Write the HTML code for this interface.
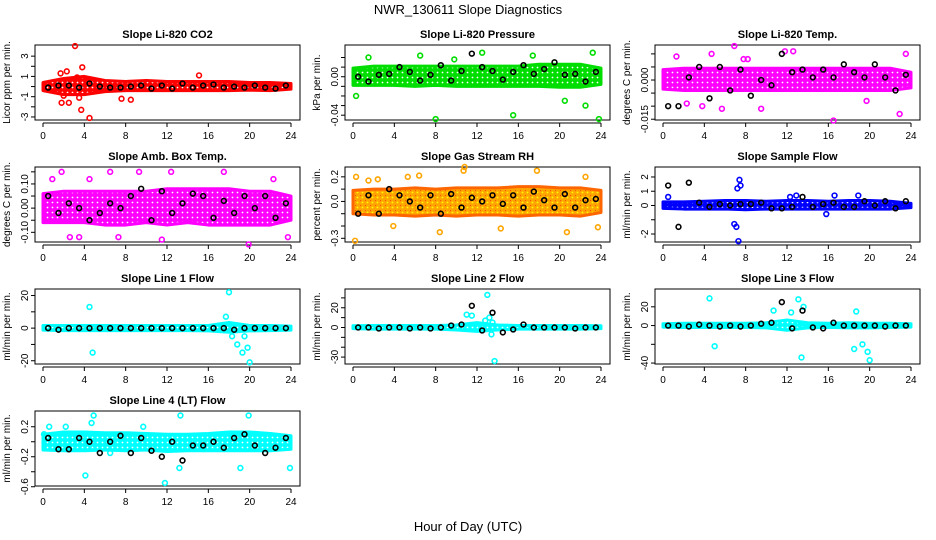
<!DOCTYPE html>
<html><head><meta charset="utf-8"><style>
body{margin:0;background:#fff}
svg{display:block;font-family:"Liberation Sans",Arial,sans-serif}
</style></head><body>
<svg id="c" width="936" height="540" viewBox="0 0 936 540">
<defs id="defs"></defs>
<text x="468" y="14" font-size="13" text-anchor="middle">NWR_130611  Slope Diagnostics</text>
<text x="468" y="531" font-size="13" text-anchor="middle">Hour of Day (UTC)</text>
</svg>
<script>
// ---- data ----
const titles=["Slope Li-820 CO2","Slope Li-820 Pressure","Slope Li-820 Temp.","Slope Amb. Box Temp.","Slope Gas Stream RH","Slope Sample Flow","Slope Line 1 Flow","Slope Line 2 Flow","Slope Line 3 Flow","Slope Line 4 (LT) Flow"];
const ylabels=["Licor ppm per min.","kPa per min.","degrees C per min.","degrees C per min.","percent per min.","ml/min per min.","ml/min per min.","ml/min per min.","ml/min per min.","ml/min per min."];
const colors=["#ff0000","#00dd00","#ff00ff","#ff00ff","#ffa500","#0000ff","#00ffff","#00ffff","#00ffff","#00ffff"];
const yRanges=[[-3.3,4.1],[-0.045,0.033],[-0.0153,0.0134],[-0.14,0.17],[-0.33,0.28],[-2.56,2.7],[-22,24],[-37,39],[-41,39],[-0.59,0.41]];
const yTicks=[[-3,-2,-1,0,1,2,3],[-0.04,-0.03,-0.02,-0.01,0,0.01,0.02],[-0.015,-0.01,-0.005,0,0.005,0.01],[-0.1,-0.05,0,0.05,0.1,0.15],[-0.3,-0.2,-0.1,0,0.1,0.2],[-2,-1,0,1,2],[-20,-10,0,10,20],[-30,-20,-10,0,10,20,30],[-40,-20,0,20],[-0.6,-0.4,-0.2,0,0.2]];
const yTickLabels=[["-3","","-1","","1","","3"],["-0.04","","","","0.00","",""],["-0.015","","","0.000","",""],["-0.10","","0.00","","0.10",""],["-0.3","","","0.0","","0.2"],["-2","","0","1","2"],["-20","","0","","20"],["-30","","","0","","20",""],["-40","","0","20"],["-0.6","","-0.2","","0.2"]];
const xTicks=[0,4,8,12,16,20,24];
const bandHours=[0,2,4,6,8,10,12,14,16,18,20,22,24];
const bandLo=[[-0.4,-0.8,-0.8,-0.5,-0.4,-0.4,-0.4,-0.4,-0.4,-0.4,-0.35,-0.4,-0.25],[-0.009,-0.009,-0.009,-0.01,-0.009,-0.01,-0.01,-0.01,-0.01,-0.01,-0.011,-0.011,-0.008],[-0.0035,-0.004,-0.004,-0.004,-0.004,-0.004,-0.004,-0.004,-0.004,-0.004,-0.004,-0.004,-0.003],[-0.06,-0.06,-0.06,-0.07,-0.07,-0.06,-0.07,-0.06,-0.07,-0.07,-0.07,-0.07,-0.05],[-0.1,-0.11,-0.11,-0.12,-0.11,-0.12,-0.11,-0.11,-0.12,-0.11,-0.11,-0.12,-0.09],[-0.2,-0.25,-0.25,-0.25,-0.3,-0.25,-0.25,-0.25,-0.25,-0.25,-0.25,-0.25,-0.15],[-1.2,-1.5,-1.5,-1.5,-1.5,-1.5,-1.5,-1.5,-1.7,-2.5,-1.7,-1.5,-1.2],[-1.2,-1.7,-1.7,-1.7,-1.7,-2.5,-4,-2.5,-1.7,-1.7,-1.7,-1.7,-1.2],[-1.7,-2,-2,-2,-2,-2.5,-5,-2.5,-2,-2.5,-2.5,-2,-1.7],[-0.11,-0.12,-0.12,-0.11,-0.12,-0.11,-0.13,-0.12,-0.12,-0.12,-0.12,-0.12,-0.1]];
const bandHi=[[0.4,0.8,1,0.6,0.5,0.6,0.5,0.5,0.5,0.5,0.4,0.4,0.3],[0.009,0.011,0.011,0.011,0.011,0.011,0.011,0.011,0.011,0.013,0.013,0.013,0.009],[0.004,0.0045,0.0045,0.0045,0.0045,0.0045,0.0045,0.0045,0.0045,0.0045,0.0045,0.0045,0.003],[0.06,0.07,0.07,0.07,0.07,0.07,0.08,0.08,0.08,0.08,0.07,0.07,0.05],[0.09,0.1,0.1,0.11,0.1,0.11,0.11,0.11,0.12,0.12,0.11,0.11,0.09],[0.25,0.25,0.3,0.35,0.35,0.3,0.35,0.35,0.3,0.35,0.35,0.3,0.15],[1.6,1.6,1.6,1.6,1.6,1.6,1.6,1.6,1.6,3.5,1.6,1.6,1.2],[1.7,2,2,2,2,2.5,5,2.5,2,2,2,2,1.7],[2,2.5,2.5,2.5,2.5,3,6,3,2.5,3,2.5,2.5,2],[0.1,0.13,0.13,0.12,0.12,0.11,0.1,0.1,0.11,0.13,0.13,0.11,0.08]];
const outX=[[1.7,1.8,2.3,2.5,3.1,3.5,3.8,4.5,3.7,7.6,8.5,15.1,2,3.3],[0.3,1.5,8,12.5,15.5,17.4,20.5,22.5,23.2,23.8,9.8,6.5],[2.3,3.8,6.9,4.7,5.7,7.8,9.5,11.8,12.6,16.5,19.7,22.9,23.5,1.3,8.2],[0.9,1.8,3.5,4.5,6.5,7.3,9.3,11.5,12.4,17.5,19.9,22.3,23.7,2.6],[0.3,0.2,1.5,2.4,3.9,5.3,6.4,8.4,10.7,10.8,14.3,17.8,20.7,22.5,23.7],[0.5,6.9,7.1,7.3,7.4,7.5,7.2,12.3,12.9,15.8,16.6,18.9],[4.5,4.8,17.7,18,18.3,18.8,19.3,19.5,19.8,20],[11,11.5,13,13.2,13.4,13.7,13.5,12.8],[4.5,5,10.7,12.4,13.1,13.4,13.6,18.5,18.7,19.3,19.8,20],[0.1,0.6,2.2,4.1,4.7,4.9,6.5,9.7,11.8,13.2,13.3,19.1,19.9,23.9,2.4]];
const outY=[[1.3,-1.6,1.5,-1.6,4,-1.1,1.9,-3.1,-2.3,-1.2,-1.3,1.1,-0.9,0.9],[-0.02,0.02,-0.044,0.025,-0.04,0.022,-0.025,-0.03,0.025,-0.044,0.018,0.022],[-0.009,-0.01,0.013,0.01,-0.011,0.008,-0.011,0.011,0.011,-0.0155,-0.008,-0.013,0.01,0.009,0.008],[0.12,0.15,-0.12,0.12,0.15,-0.12,0.15,-0.13,0.15,0.15,-0.15,0.12,-0.12,-0.12],[0.2,-0.32,0.17,0.18,-0.2,0.2,0.21,-0.25,0.25,0.28,-0.22,0.25,-0.25,0.2,-0.21],[0.6,-1.3,-1.5,-2.5,1.8,1.4,1.2,0.6,0.7,-0.6,0.7,0.7],[13,-15,7,22,-5,-10,-15,-5,-12,-21],[13,12,33,10,-7,-34,5,7],[29,-22,16,14,28,-34,20,-25,15,-20,-28,-37],[0.1,0.2,0.2,-0.45,0.25,0.35,-0.15,0.2,-0.55,-0.35,0.35,-0.35,0.35,-0.35,-0.1]];
const blackX=[0.5,1.5,2.5,3.5,4.5,5.5,6.5,7.5,8.5,9.5,10.5,11.5,12.5,13.5,14.5,15.5,16.5,17.5,18.5,19.5,20.5,21.5,22.5,23.5];
const blackY=[[-0.1,0.1,0.1,-0.1,0.3,0,-0.1,-0.1,0,0.1,-0.2,0.1,-0.2,0.3,-0.1,0.1,0.2,-0.1,0,-0.1,0.1,-0.1,-0.2,0.1],[0,-0.005,0.002,0.003,0.01,0.005,-0.004,0.002,0.012,-0.004,0.006,0.024,0.01,0.006,-0.003,0.005,0.012,0.003,0.008,0.015,0.002,0.003,-0.005,0.005],[-0.01,-0.01,0.001,0.005,-0.007,0.005,-0.004,0.004,-0.006,0,-0.002,0.01,0.003,0.004,0.001,0.004,0.001,0.006,0.003,0.001,0.006,0.001,-0.004,0.002],[0.05,-0.02,0.02,0,-0.05,-0.02,0.02,0,0.05,0.08,-0.05,0.07,-0.02,0.02,0.06,0.05,-0.04,0.03,-0.02,0.05,0,0.05,-0.04,0.02],[-0.1,0.05,-0.1,0.1,0.05,0,-0.05,0.05,-0.1,0.06,-0.05,0.03,0,0.05,-0.02,0.05,-0.05,0.08,0.01,-0.05,0.06,-0.05,0.01,0.02],[1.4,-1.5,1.6,0.2,-0.1,0.1,0,0.1,0.1,0.2,-0.2,-0.2,-0.1,0.6,-0.1,0.1,0.2,-0.1,-0.1,0.3,0,0.3,-0.2,0.3],[0,-1,0,0,0,0,0,0,0,0,0,0,0,0,0,0,0,0,-1,0,0,0,0,0],[0,0,-1,0,0,-1,0,-1,0,2,3,22,-3,15,-5,-2,3,0,0,0,0,-1,0,0],[0,0,-1,1,0,-1,0,-1,0,2,3,25,-3,16,-2,-3,3,0,0,0,0,-1,0,0],[0.05,-0.1,-0.1,0.05,0,-0.15,0,0.08,-0.15,0.05,-0.12,-0.2,0,-0.25,-0.05,-0.05,0,-0.08,0.05,0.1,-0.05,-0.15,-0.08,0.05]];
// ---- layout ----
const colL=[35,345,655],W=265,rowT=[45,167,289,411],H=75;
const svg=document.getElementById('c');const NS='http://www.w3.org/2000/svg';
const defs=document.getElementById('defs');
function mk(t,a,p){const e=document.createElementNS(NS,t);for(const k in a)e.setAttribute(k,a[k]);(p||svg).appendChild(e);return e;}
for(let i=0;i<10;i++){
  const pat=mk('pattern',{id:'pt'+i,width:5,height:5,patternUnits:'userSpaceOnUse'},defs);
  mk('rect',{width:5,height:5,fill:colors[i]},pat);
  mk('circle',{cx:2.5,cy:2.5,r:0.9,fill:i==4?'#ffff00':'#fff'},pat);
  if(i==4)mk('circle',{cx:0,cy:0,r:1,fill:'#ff3300'},pat);
}
for(let i=0;i<10;i++){
  const L=colL[i%3],T=rowT[Math.floor(i/3)];
  const g=mk('g',{});
  
  
  const xs=h=>L+8+h*(W-17)/24;
  const [y0,y1]=yRanges[i];const ys=v=>T+H-(v-y0)/(y1-y0)*H;
  const box=mk('rect',{x:L,y:T,width:W,height:H,fill:'none',stroke:'#000','stroke-width':1},g);
  
  
  const tt=mk('text',{x:L+W/2,y:T-7,'font-size':11,'font-weight':'bold','text-anchor':'middle'},g);tt.textContent=titles[i];
  
  
  const yl=mk('text',{x:0,y:0,'font-size':10,'text-anchor':'middle',transform:`translate(${L-25},${T+H/2}) rotate(-90)`},g);yl.textContent=ylabels[i];
  
  
  yTicks[i].forEach((v,k)=>{const y=ys(v);mk('line',{x1:L-4,x2:L,y1:y,y2:y,stroke:'#000'},g);
    if(yTickLabels[i][k]){const t=mk('text',{x:0,y:0,'font-size':10,'text-anchor':'middle',transform:`translate(${L-7},${y}) rotate(-90)`},g);t.textContent=yTickLabels[i][k];
    
    }});
  mk('line',{x1:xs(0),x2:xs(24),y1:T+H+3,y2:T+H+3,stroke:'#000'},g);
  xTicks.forEach(h=>{mk('line',{x1:xs(h),x2:xs(h),y1:T+H+3,y2:T+H+7,stroke:'#000'},g);
    const t=mk('text',{x:xs(h),y:T+H+19,'font-size':10,'text-anchor':'middle'},g);t.textContent=h;
    
    });
  let pts=bandHours.map((h,k)=>xs(h)+','+ys(bandHi[i][k]));
  pts=pts.concat(bandHours.map((h,k)=>xs(h)+','+ys(bandLo[i][k])).reverse());
  const band=mk('polygon',{points:pts.join(' '),fill:'url(#pt'+i+')',stroke:i==4?'#ff6600':colors[i],'stroke-width':3,'stroke-linejoin':'round'},g);
  
  
  outX[i].forEach((h,k)=>{const c=mk('circle',{cx:xs(h),cy:ys(outY[i][k]),r:2.4,fill:'none',stroke:colors[i],'stroke-width':1.6},g);
    
    });
  blackX.forEach((h,k)=>{const c=mk('circle',{cx:xs(h),cy:ys(blackY[i][k]),r:2.4,fill:'none',stroke:'#000','stroke-width':1.6},g);
    
    });
}
</script>
</body></html>
